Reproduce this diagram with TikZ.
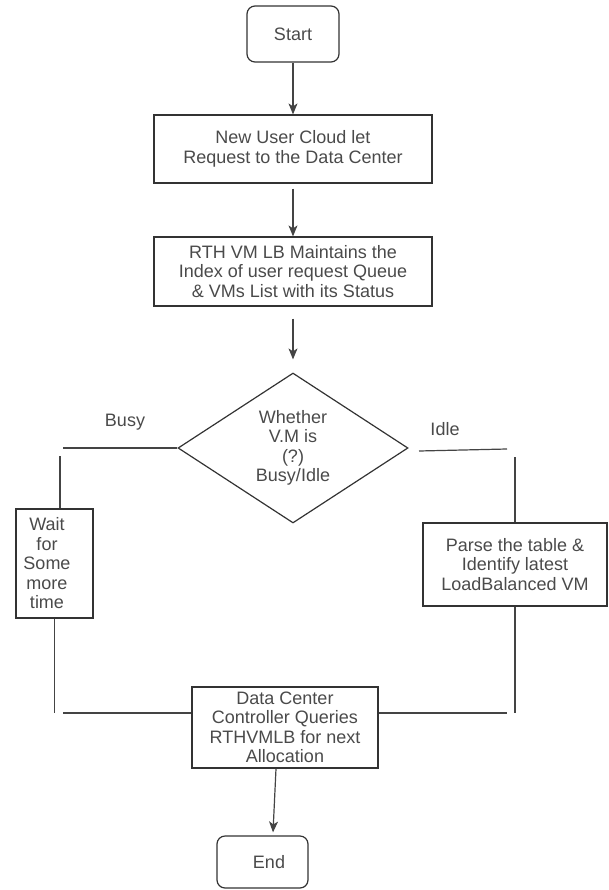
\documentclass[tikz,border=0pt]{standalone}
\usepackage{fontspec}
\setmainfont{Liberation Sans}
\usetikzlibrary{shapes.geometric, arrows.meta, calc}
\definecolor{ink}{HTML}{333333}
\definecolor{words}{HTML}{4A4A4A}
\definecolor{wire}{HTML}{444444}
% a centred line pushed left by half of the kern
\newcommand{\lftline}[1]{\mbox{#1\kern15pt}}
\begin{document}
\begin{tikzpicture}[x=1pt, y=-1pt,
  every node/.style={font=\fontsize{18}{19.5}\selectfont, text=words, align=center},
  proc/.style={draw=ink, line width=1.2pt, rectangle, inner sep=0pt},
  term/.style={proc, rounded corners=8pt},
  decide/.style={draw=ink, line width=1.2pt, diamond, aspect=1.53, inner sep=0pt,
                 minimum width=230pt, minimum height=150pt},
  link/.style={draw=wire, line width=1.2pt},
  arr/.style={link, -{Stealth[length=11pt, width=9pt, inset=3pt]}}
]
\useasboundingbox (0,0) rectangle (608,890);

% process steps
\node[term, minimum width=92pt, minimum height=56pt] (start) at (293,34) {Start};
\node[proc, minimum width=278pt, minimum height=68pt] (req) at (293,149)
  {New User Cloud let\\Request to the Data Center};
\node[proc, minimum width=278pt, minimum height=69pt] (idx) at (293,271.5)
  {RTH VM LB Maintains the\\Index of user request Queue\\\& VMs List with its Status};
\node[decide] (dec) at (293,448) {Whether\\V.M is\\(?)\\Busy/Idle};
\node[proc, minimum width=77pt, minimum height=109pt] (wait) at (54.5,563.5)
  {\lftline{Wait}\\\lftline{for}\\\lftline{Some}\\\lftline{more}\\\lftline{time}};
\node[proc, minimum width=184pt, minimum height=83pt] (parse) at (515,564.5)
  {Parse the table \&\\Identify latest\\LoadBalanced VM};
\node[proc, minimum width=186pt, minimum height=81pt] (dc) at (285,727.5)
  {Data Center\\Controller Queries\\RTHVMLB for next\\Allocation};
\node[term, minimum width=91pt, minimum height=52pt] (fin) at (262.5,862) {\mbox{\kern13pt End}};

% branch labels
\node (busy) at (125,422) {Busy};
\node (idle) at (445,429) {Idle};

% main flow
\draw[arr] (start) -- (req);
\draw[arr, shorten <=5pt] (req) -- (idx);
\draw[arr, shorten <=12pt, shorten >=13pt] (idx) -- (dec);

% busy branch
\coordinate (busyL) at (63,448);
\draw[link] (dec.west) -- (busyL);
\coordinate (waitIn) at (60,456);
\draw[link] (waitIn) -- (waitIn |- wait.north);
\coordinate (joinL) at (63,713);
\draw[link] (wait.south) -- (wait.south |- joinL);
\draw[link] (joinL) -- (joinL -| dc.west);

% idle branch
\coordinate (idleA) at (419,451);
\coordinate (idleB) at (507,449);
\draw[link] (idleA) -- (idleB);
\coordinate (parseIn) at (515,457);
\draw[link] (parseIn) -- (parse.north);
\coordinate (joinR) at (507,713);
\draw[link] (dc.east |- joinR) -- (joinR);
\draw[link] (parse.south) -- (parse.south |- joinR);

% finish
\draw[arr] ($(dc.south)+(-9,0)$) -- ($(fin.north)+(10.5,-3)$);
\end{tikzpicture}
\end{document}
